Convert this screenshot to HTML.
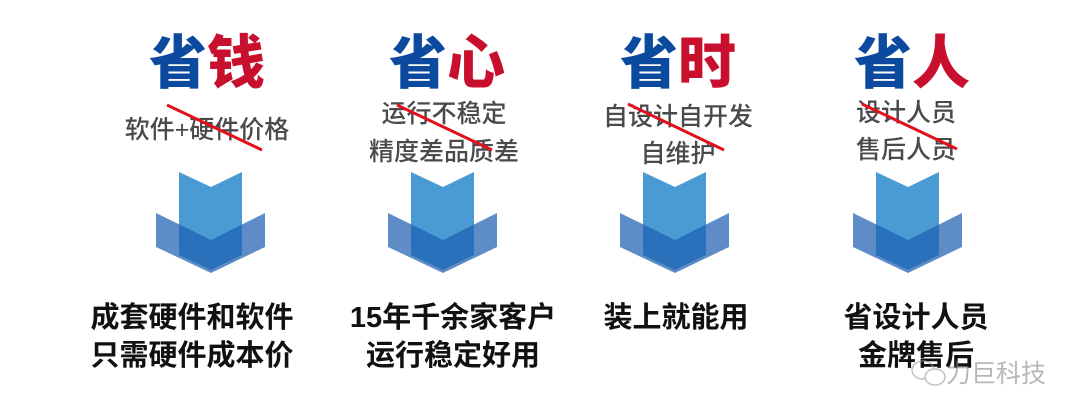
<!DOCTYPE html>
<html><head><meta charset="utf-8"><style>
html,body{margin:0;padding:0;background:#fff;width:1080px;height:417px;overflow:hidden}
svg{display:block}
.t{font-family:"Liberation Sans","Noto Sans CJK SC",sans-serif;font-weight:900;font-size:58px}
.s{font-family:"Liberation Sans","Noto Sans CJK SC",sans-serif;font-size:25px;fill:#4a4a4a;font-weight:500}
.b{font-family:"Liberation Sans","Noto Sans CJK SC",sans-serif;font-size:29px;font-weight:700;fill:#111}
</style></head><body>
<svg width="1080" height="417" viewBox="0 0 1080 417">
<defs>
<g id="arr">
<polygon points="-32,172 0,187 31,172 31,255 0,270 -32,255" fill="#4a9ad3"/>
<polygon points="-55,213 0,240 54,213 54,247 0,273 -55,247" fill="#2060b0" fill-opacity="0.72"/>
</g>
</defs>
<g text-anchor="middle">
<text class="t" x="207" y="83"><tspan fill="#0b4a9e">省</tspan><tspan fill="#c8102e">钱</tspan></text>
<text class="t" x="447" y="83"><tspan fill="#0b4a9e">省</tspan><tspan fill="#c8102e">心</tspan></text>
<text class="t" x="678" y="83"><tspan fill="#0b4a9e">省</tspan><tspan fill="#c8102e">时</tspan></text>
<text class="t" x="912" y="83"><tspan fill="#0b4a9e">省</tspan><tspan fill="#c8102e">人</tspan></text>

<text class="s" x="207" y="138">软件+硬件价格</text>
<text class="s" x="444" y="122">运行不稳定</text>
<text class="s" x="444" y="160">精度差品质差</text>
<text class="s" x="678" y="125">自设计自开发</text>
<text class="s" x="678" y="162">自维护</text>
<text class="s" x="906" y="121">设计人员</text>
<text class="s" x="906" y="158">售后人员</text>

<text class="b" x="192" y="327">成套硬件和软件</text>
<text class="b" x="192" y="365">只需硬件成本价</text>
<text class="b" x="453" y="327">15年千余家客户</text>
<text class="b" x="453" y="365">运行稳定好用</text>
<text class="b" x="676" y="327">装上就能用</text>
<text class="b" x="916" y="327">省设计人员</text>
<text class="b" x="916" y="365">金牌售后</text>
</g>
<g stroke="#e0101c" stroke-width="3">
<line x1="167" y1="105" x2="262" y2="150"/>
<line x1="397" y1="105" x2="492" y2="150"/>
<line x1="628" y1="104" x2="724" y2="150"/>
<line x1="862" y1="104" x2="957" y2="149"/>
</g>
<use href="#arr" x="211"/>
<use href="#arr" x="443"/>
<use href="#arr" x="675"/>
<use href="#arr" x="908"/>
<g opacity="0.6">
<ellipse cx="923" cy="370" rx="11" ry="9" fill="none" stroke="#999" stroke-width="1.5"/>
<ellipse cx="935" cy="377" rx="10" ry="8" fill="#fff" stroke="#999" stroke-width="1.5"/>
<text x="946" y="382" font-family="Liberation Sans,Noto Sans CJK SC,sans-serif" font-size="25" fill="#888">力巨科技</text>
</g>
</svg>
</body></html>
